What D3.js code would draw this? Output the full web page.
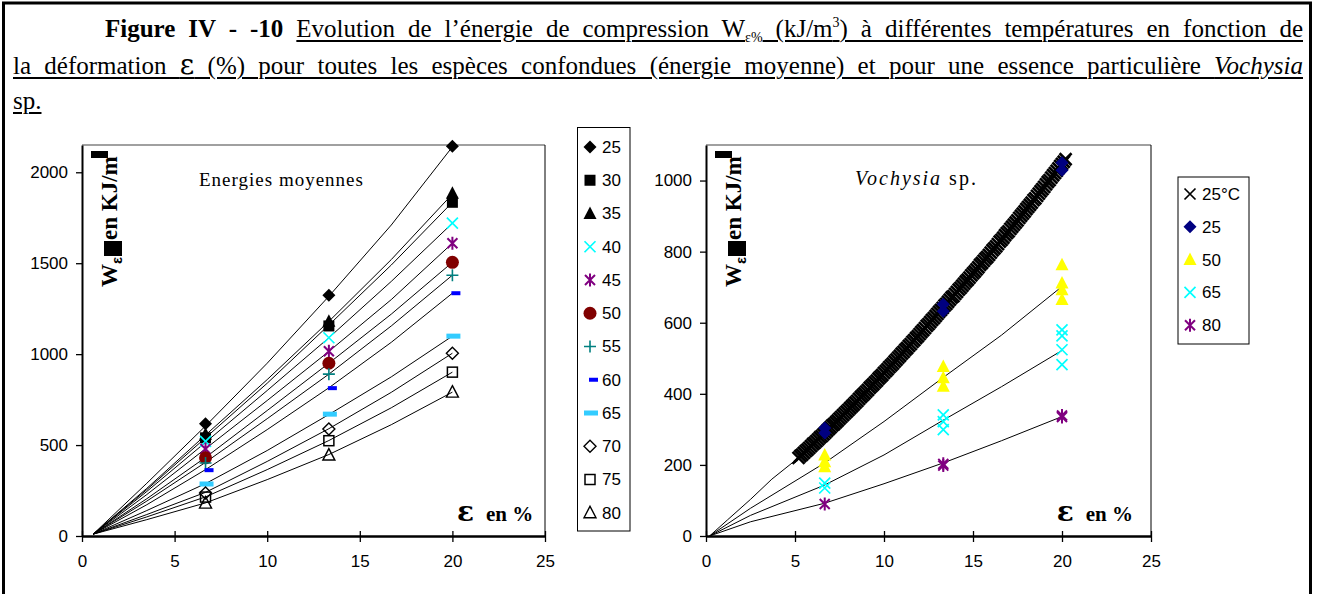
<!DOCTYPE html>
<html><head><meta charset="utf-8">
<script src="https://cdn.jsdelivr.net/npm/d3@7"></script>
<style>
body{margin:0;background:#fff;}
#wrap{position:relative;width:1322px;height:594px;overflow:hidden;background:#fff;}
svg{position:absolute;left:0;top:0;}
.tl{position:absolute;font-family:"Liberation Serif","Times New Roman",serif;font-size:25px;line-height:28px;height:28px;color:#000;text-align:justify;text-align-last:justify;}
.tl u{text-decoration-thickness:1.5px;text-underline-offset:3px;}
.sub{font-size:14px;position:relative;top:5px;}
.sup{font-size:14px;position:relative;top:-10px;}
.eps{font-family:"DejaVu Serif",serif;font-size:28px;line-height:20px;}
</style></head>
<body><div id="wrap">
<div class="tl" style="left:105px;width:1198px;top:15px;"><b>Figure IV - -10</b> <u>Evolution de l’énergie de compression W<span class="sub">ε%</span> (kJ/m<span class="sup">3</span>) à différentes températures en fonction de</u></div>
<div class="tl" style="left:13px;width:1290px;top:52px;"><u>la déformation <span class="eps">ε</span> (%) pour toutes les espèces confondues (énergie moyenne) et pour une essence particulière <i>Vochysia</i></u></div>
<div class="tl" style="left:13px;width:200px;top:87px;text-align:left;text-align-last:left;"><u>sp.</u></div>
</div>
<script>
// ---------------- DATA ----------------
const xTicks = [0, 5, 10, 15, 20, 25];
const leftYTicks = [0, 500, 1000, 1500, 2000];
const rightYTicks = [0, 200, 400, 600, 800, 1000];

// Left panel: "Energies moyennes"
const leftTemps = ["25", "30", "35", "40", "45", "50", "55", "60", "65", "70", "75", "80"];
const leftStrain = [6.67, 13.33, 20];
const leftW_6_67 = [617, 540, 560, 520, 478, 430, 401, 362, 286, 236, 214, 181];
const leftW_13_33 = [1324, 1155, 1181, 1090, 1016, 950, 890, 813, 670, 588, 524, 445];
const leftW_20 = [2143, 1835, 1885, 1720, 1610, 1505, 1434, 1335, 1099, 1005, 901, 791];
const leftCurveStrain = [0.6, 3.5, 6.67, 10, 13.33, 16.7, 20];
const leftCurveW = [
  [10, 290, 605, 950, 1318, 1710, 2140],
  [10, 255, 540, 840, 1160, 1490, 1835],
  [10, 262, 555, 860, 1180, 1520, 1880],
  [10, 245, 515, 800, 1090, 1400, 1720],
  [10, 228, 480, 745, 1015, 1300, 1610],
  [10, 205, 432, 690, 950, 1220, 1505],
  [10, 192, 405, 645, 890, 1155, 1434],
  [10, 172, 365, 585, 815, 1065, 1335],
  [10, 140, 288, 470, 668, 875, 1099],
  [10, 118, 240, 410, 590, 790, 1005],
  [10, 105, 215, 365, 525, 705, 901],
  [10, 90, 182, 310, 448, 612, 791]
];

// Right panel: "Vochysia sp."
const rightLabels = ["25°C", "25", "50", "65", "80"];
const r25CStrain = [5.2,5.3,5.4,5.5,5.6,5.7,5.8,5.9,6.0,6.1,6.2,6.3,6.4,6.5,6.6,6.7,6.8,6.9,7.0,7.1,7.2,7.3,7.4,7.5,7.6,7.7,7.8,7.9,8.0,8.1,8.2,8.3,8.4,8.5,8.6,8.7,8.8,8.9,9.0,9.1,9.2,9.3,9.4,9.5,9.6,9.7,9.8,9.9,10.0,10.1,10.2,10.3,10.4,10.5,10.6,10.7,10.8,10.9,11.0,11.1,11.2,11.3,11.4,11.5,11.6,11.7,11.8,11.9,12.0,12.1,12.2,12.3,12.4,12.5,12.6,12.7,12.8,12.9,13.0,13.1,13.2,13.3,13.4,13.5,13.6,13.7,13.8,13.9,14.0,14.1,14.2,14.3,14.4,14.5,14.6,14.7,14.8,14.9,15.0,15.1,15.2,15.3,15.4,15.5,15.6,15.7,15.8,15.9,16.0,16.1,16.2,16.3,16.4,16.5,16.6,16.7,16.8,16.9,17.0,17.1,17.2,17.3,17.4,17.5,17.6,17.7,17.8,17.9,18.0,18.1,18.2,18.3,18.4,18.5,18.6,18.7,18.8,18.9,19.0,19.1,19.2,19.3,19.4,19.5,19.6,19.7,19.8,19.9,20.0,20.1,20.2];
const r25CW = [220,225,229,234,239,243,248,253,258,262,267,272,277,281,286,291,296,301,306,311,315,320,325,330,335,340,345,350,355,360,365,370,375,380,386,391,396,401,406,411,417,422,427,432,437,443,448,453,459,464,469,475,480,485,491,496,502,507,513,518,524,529,535,540,546,551,557,562,568,574,579,585,591,596,602,608,613,619,625,631,636,642,648,653,659,665,671,675,681,687,693,698,704,710,716,721,727,733,739,744,750,756,763,768,774,780,785,791,797,804,809,815,821,828,833,839,846,852,857,864,870,876,882,888,895,901,907,913,920,926,932,938,945,950,957,963,970,976,982,989,996,1001,1008,1015,1021,1027,1034,1041,1047,1053,1060];
const r25CLeadStrain = [0.2, 1.2, 2.5, 3.7, 5.2];
const r25CLeadW = [0, 45, 103, 160, 220];
const r25Strain = [6.67, 6.67, 13.33, 13.33, 20, 20];
const r25W = [290, 304, 632, 652, 1029, 1050];
const r50Strain = [6.67, 6.67, 6.67, 13.33, 13.33, 13.33, 20, 20, 20, 20];
const r50W = [195, 209, 228, 421, 445, 477, 665, 693, 712, 763];
const r65Strain = [6.67, 6.67, 13.33, 13.33, 13.33, 20, 20, 20, 20];
const r65W = [135, 149, 299, 322, 341, 482, 524, 563, 580];
const r80Strain = [6.67, 13.33, 13.33, 20, 20];
const r80W = [90, 198, 203, 335, 339];
const rightCurveStrain = [0.2, 2.5, 6.65, 10, 13.3, 16.6, 20];
const rightCurve50 = [0, 78, 205, 322, 445, 565, 702];
const rightCurve65 = [0, 58, 143, 228, 325, 420, 522];
const rightCurve80 = [0, 40, 92, 147, 205, 268, 336];

// ---------------- STYLES ----------------
const SANS = '"Liberation Sans", Arial, sans-serif';
const SERIF = '"Liberation Serif", "Times New Roman", serif';
const leftStyles = [
  ["diamond", "#000"], ["square", "#000"], ["triangle", "#000"], ["x", "#00FFFF"],
  ["star", "#800080"], ["circle", "#800000"], ["plus", "#008080"], ["dash", "#0000FF"],
  ["dashw", "#33CCFF"], ["odiamond", "#000"], ["osquare", "#000"], ["otriangle", "#000"]
];
const rightStyles = [["x", "#000"], ["diamond", "#000080"], ["triangle", "#FFFF00"], ["x", "#00FFFF"], ["star", "#800080"]];

const svg = d3.select("#wrap").insert("svg", ":first-child").attr("width", 1322).attr("height", 594);
svg.append("rect").attr("x", 3.5).attr("y", 3).attr("width", 1307).attr("height", 700)
  .attr("fill", "none").attr("stroke", "#000").attr("stroke-width", 3);

function marker(g, type, color, big) {
  switch (type) {
    case "diamond": g.append("path").attr("d", "M0,-6.5L6.5,0L0,6.5L-6.5,0Z").attr("fill", color); break;
    case "square": g.append("rect").attr("x", -5.5).attr("y", -5.5).attr("width", 11).attr("height", 11).attr("fill", color); break;
    case "triangle": g.append("path").attr("d", "M0,-7L6.5,5.5L-6.5,5.5Z").attr("fill", color); break;
    case "x": g.append("path").attr("d", big ? "M-6,-6L6,6M-6,6L6,-6" : "M-5.5,-5.5L5.5,5.5M-5.5,5.5L5.5,-5.5")
      .attr("stroke", color).attr("stroke-width", big ? 2.6 : 1.7).attr("fill", "none"); break;
    case "star": g.append("path").attr("d", "M-5,-5L5,5M-5,5L5,-5M0,-6.5L0,6.5").attr("stroke", color).attr("stroke-width", 2).attr("fill", "none"); break;
    case "circle": g.append("circle").attr("r", 6.5).attr("fill", color); break;
    case "plus": g.append("path").attr("d", "M-6,0L6,0M0,-6L0,6").attr("stroke", color).attr("stroke-width", 1.6).attr("fill", "none"); break;
    case "dash": g.append("rect").attr("x", -1).attr("y", -2).attr("width", 9).attr("height", 4).attr("fill", color); break;
    case "dashw": g.append("rect").attr("x", -6).attr("y", -2.5).attr("width", 14).attr("height", 5).attr("fill", color); break;
    case "odiamond": g.append("path").attr("d", "M0,-6L6,0L0,6L-6,0Z").attr("fill", "none").attr("stroke", color).attr("stroke-width", 1.4); break;
    case "osquare": g.append("rect").attr("x", -5).attr("y", -5).attr("width", 10).attr("height", 10).attr("fill", "none").attr("stroke", color).attr("stroke-width", 1.5); break;
    case "otriangle": g.append("path").attr("d", "M0,-6.5L6,5L-6,5Z").attr("fill", "none").attr("stroke", color).attr("stroke-width", 1.4); break;
  }
}

function panel(o) {
  const x = d3.scaleLinear().domain([0, 25]).range([o.l, o.r]);
  const y = d3.scaleLinear().domain([0, o.ymax]).range([o.b, o.t]);
  const g = svg.append("g");
  g.append("line").attr("x1", o.l).attr("x2", o.r).attr("y1", o.t).attr("y2", o.t).attr("stroke", "#808080").attr("stroke-width", 1.5);
  g.append("line").attr("x1", o.r).attr("x2", o.r).attr("y1", o.t).attr("y2", o.b).attr("stroke", "#000").attr("stroke-width", 1);
  const ya = g.append("g").attr("transform", `translate(${o.l},0)`)
    .call(d3.axisLeft(y).tickValues(o.yticks).tickFormat(d3.format("d")).tickSize(6).tickPadding(8).tickSizeOuter(0));
  ya.select(".domain").attr("stroke-width", 2);
  ya.selectAll(".tick line").attr("stroke-width", 1.3);
  ya.selectAll("text").attr("font-family", SANS).attr("font-size", 17).attr("fill", "#000");
  const xa = g.append("g").attr("transform", `translate(0,${o.b})`)
    .call(d3.axisBottom(x).tickValues(xTicks).tickFormat(d3.format("d")).tickSize(6).tickPadding(13).tickSizeOuter(0));
  xa.select(".domain").attr("stroke-width", 2.5);
  xa.selectAll(".tick line").attr("y1", -5).attr("stroke-width", 1.3);
  xa.selectAll("text").attr("font-family", SANS).attr("font-size", 17).attr("fill", "#000");
  const yt = g.append("g").attr("transform", `translate(${o.l + 35},287) rotate(-90)`);
  yt.append("text").attr("x", 0).attr("y", 0).attr("font-family", SERIF).attr("font-weight", "bold").attr("font-size", 23).text("W");
  yt.append("text").attr("x", 23).attr("y", 5).attr("font-family", SANS).attr("font-weight", "bold").attr("font-size", 15).text("ε");
  yt.append("rect").attr("x", 31).attr("y", -13).attr("width", 15).attr("height", 18).attr("fill", "#000");
  yt.append("text").attr("x", 47).attr("y", 0).attr("font-family", SERIF).attr("font-weight", "bold").attr("font-size", 23).text("en KJ/m");
  yt.append("rect").attr("x", 129).attr("y", -26).attr("width", 7).attr("height", 17).attr("fill", "#000");
  g.append("text").attr("x", x(o.epsX)).attr("y", 521).attr("font-family", '"DejaVu Serif", serif').attr("font-weight", "bold").attr("font-size", 28).text("ε");
  g.append("text").attr("x", x(o.epsX) + 29).attr("y", 521).attr("font-family", SERIF).attr("font-weight", "bold").attr("font-size", 21).text("en %");
  return { x, y, g };
}

// ---------- LEFT PANEL ----------
const L = panel({ l: 82, r: 545, t: 145, b: 536, ymax: 2150, yticks: leftYTicks, epsX: 20.25 });
L.g.append("text").attr("x", 199).attr("y", 186).attr("font-family", SERIF).attr("font-size", 19)
  .attr("letter-spacing", 1).text("Energies moyennes");
const lineL = d3.line().x(d => L.x(d[0])).y(d => L.y(d[1]));
leftCurveW.forEach(vals => {
  L.g.append("path").attr("d", lineL(leftCurveStrain.map((s, i) => [s, vals[i]])))
    .attr("fill", "none").attr("stroke", "#000").attr("stroke-width", 1);
});
const leftMarkerVals = [leftW_6_67, leftW_13_33, leftW_20];
leftTemps.forEach((t, k) => {
  leftStrain.forEach((s, j) => {
    const mg = L.g.append("g").attr("transform", `translate(${L.x(s)},${L.y(leftMarkerVals[j][k])})`);
    marker(mg, leftStyles[k][0], leftStyles[k][1]);
  });
});
const legL = svg.append("g");
legL.append("rect").attr("x", 577.5).attr("y", 127.5).attr("width", 52.5).attr("height", 403.5)
  .attr("fill", "#fff").attr("stroke", "#000").attr("stroke-width", 1);
leftTemps.forEach((t, k) => {
  const cy = 147 + k * 33.25;
  const mg = legL.append("g").attr("transform", `translate(590,${cy})`);
  marker(mg, leftStyles[k][0], leftStyles[k][1]);
  legL.append("text").attr("x", 602).attr("y", cy).attr("dy", "0.35em").attr("font-family", SANS).attr("font-size", 17).text(t);
});

// ---------- RIGHT PANEL ----------
const R = panel({ l: 706, r: 1151, t: 145, b: 536, ymax: 1100, yticks: rightYTicks, epsX: 19.7 });
const vt = R.g.append("text").attr("x", 855).attr("y", 185).attr("font-family", SERIF).attr("font-size", 20).attr("letter-spacing", 2);
vt.append("tspan").attr("font-style", "italic").text("Vochysia");
vt.append("tspan").text(" sp.");
const lineR = d3.line().x(d => R.x(d[0])).y(d => R.y(d[1]));
[rightCurve50, rightCurve65, rightCurve80].forEach(vals => {
  R.g.append("path").attr("d", lineR(rightCurveStrain.map((s, i) => [s, vals[i]])))
    .attr("fill", "none").attr("stroke", "#000").attr("stroke-width", 1);
});
const leadPts = r25CLeadStrain.map((s, i) => [s, r25CLeadW[i]]).concat(r25CStrain.map((s, i) => [s, r25CW[i]]));
R.g.append("path").attr("d", lineR(leadPts)).attr("fill", "none").attr("stroke", "#000").attr("stroke-width", 1);
function rMarkers(strains, vals, st, big) {
  strains.forEach((s, i) => {
    const mg = R.g.append("g").attr("transform", `translate(${R.x(s)},${R.y(vals[i])})`);
    marker(mg, st[0], st[1], big);
  });
}
rMarkers(r25CStrain, r25CW, rightStyles[0], true);
rMarkers(r25Strain, r25W, rightStyles[1]);
rMarkers(r50Strain, r50W, rightStyles[2]);
rMarkers(r65Strain, r65W, rightStyles[3]);
rMarkers(r80Strain, r80W, rightStyles[4]);
const legR = svg.append("g");
legR.append("rect").attr("x", 1178).attr("y", 177).attr("width", 71).attr("height", 167)
  .attr("fill", "#fff").attr("stroke", "#000").attr("stroke-width", 1);
rightLabels.forEach((t, k) => {
  const cy = 194 + k * 32.8;
  const mg = legR.append("g").attr("transform", `translate(1190,${cy})`);
  marker(mg, rightStyles[k][0], rightStyles[k][1]);
  legR.append("text").attr("x", 1202).attr("y", cy).attr("dy", "0.35em").attr("font-family", SANS).attr("font-size", 17).text(t);
});
</script>
</body></html>
